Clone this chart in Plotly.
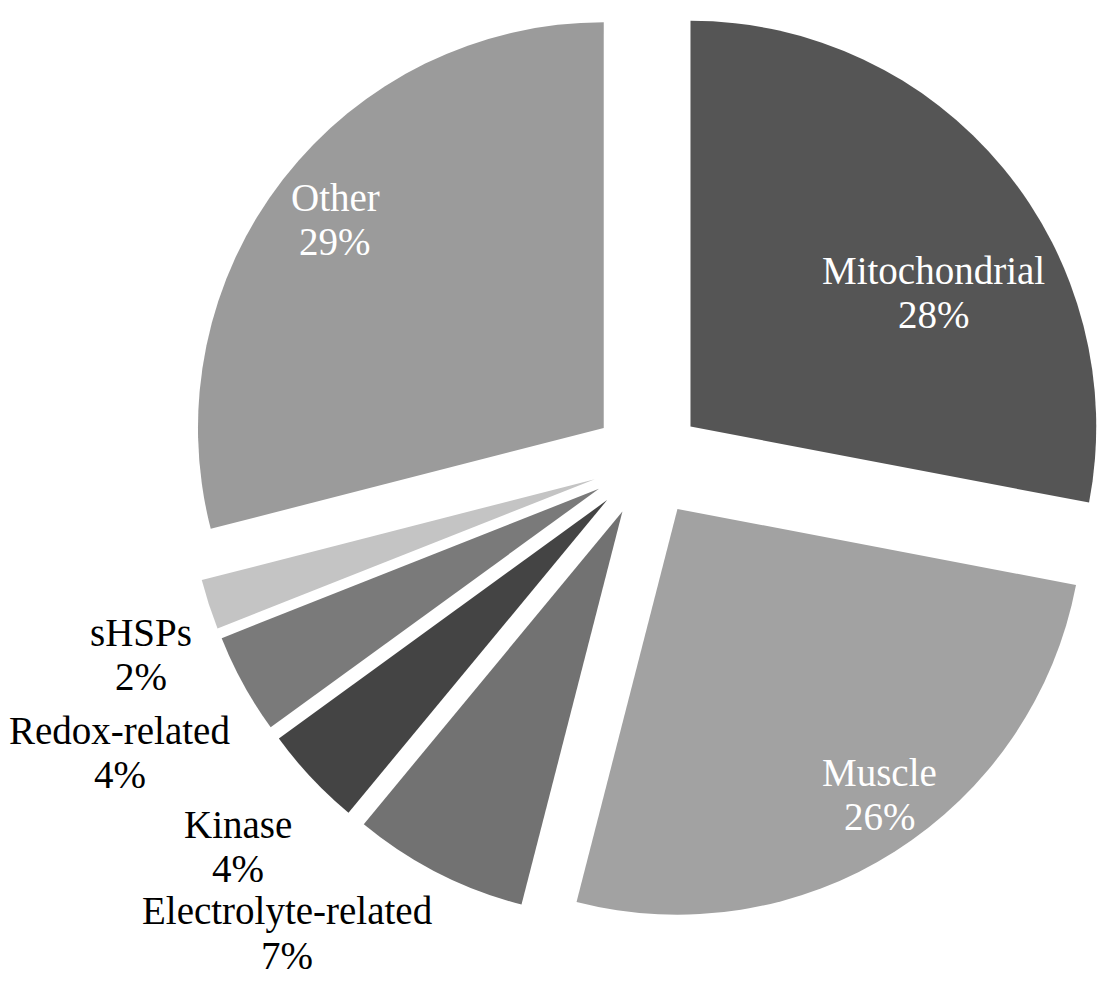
import math
import plotly.graph_objects as go

# Protein categories and their share of the total (percent)
categories = ["Mitochondrial", "Muscle", "Electrolyte-related", "Kinase",
              "Redox-related", "sHSPs", "Other"]
shares = [28, 26, 7, 4, 4, 2, 29]

slice_colors = ["#555555", "#a2a2a2", "#727272", "#444444",
                "#7a7a7a", "#c4c4c4", "#9b9b9b"]

# Label placement: distance from the pie centre (in radii) and a small
# angular nudge (degrees, clockwise) relative to each slice's mid-angle.
label_radius = [0.82, 1.0, 1.462, 1.385, 1.485, 1.335, 0.975]
label_nudge = [8.9, -2.5, 10.4, 0.0, 0.0, -2.8, 0.0]
label_inside = [True, True, False, False, False, False, True]

W, H = 1109, 984
PULL = 0.137
FONT = "Liberation Serif"
FONT_SIZE = 39
LINE_GAP = 22  # half the distance between the two lines of a label

dom_x = [0.168, 1.0]
dom_y = [1 - 924 / H, 1.0]

fig = go.Figure(
    go.Pie(
        labels=categories,
        values=shares,
        sort=False,
        direction="clockwise",
        rotation=0,
        pull=[PULL] * len(shares),
        marker=dict(colors=slice_colors, line=dict(width=0)),
        textinfo="none",
        domain=dict(x=dom_x, y=dom_y),
        hoverinfo="skip",
        showlegend=False,
    )
)

# Pie geometry in pixels (same rule plotly uses to size a pulled pie)
cx = W * (dom_x[0] + dom_x[1]) / 2
cy = H * (1 - (dom_y[0] + dom_y[1]) / 2)
radius = min(W * (dom_x[1] - dom_x[0]), H * (dom_y[1] - dom_y[0])) / 2 / (1 + PULL)

total = sum(shares)
start = 0.0
annotations = []
for name, val, rf, nudge, inside in zip(categories, shares, label_radius,
                                         label_nudge, label_inside):
    mid = (start + val / 2) / total * 360 + nudge
    start += val
    theta = math.radians(mid)
    px = cx + rf * radius * math.sin(theta)
    py = cy - rf * radius * math.cos(theta)
    color = "white" if inside else "black"
    for text, shift in ((name, LINE_GAP), (f"{val}%", -LINE_GAP)):
        annotations.append(dict(
            x=px / W, y=1 - py / H, xref="paper", yref="paper",
            text=text, showarrow=False, yshift=shift,
            xanchor="center", yanchor="middle",
            font=dict(family=FONT, size=FONT_SIZE, color=color),
        ))

fig.update_layout(
    width=W,
    height=H,
    margin=dict(l=0, r=0, t=0, b=0),
    paper_bgcolor="white",
    plot_bgcolor="white",
    annotations=annotations,
)

fig.write_html("out.html")
